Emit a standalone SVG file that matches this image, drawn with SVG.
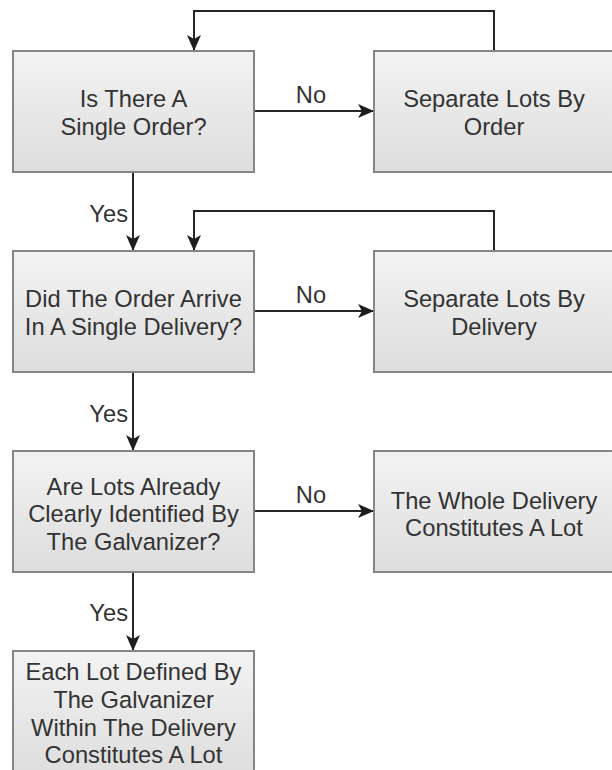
<svg xmlns="http://www.w3.org/2000/svg" width="612" height="770" viewBox="0 0 612 770">
<defs>
<linearGradient id="g" x1="0" y1="0" x2="0" y2="1">
<stop offset="0" stop-color="#f3f3f3"/>
<stop offset="1" stop-color="#dddddd"/>
</linearGradient>
<marker id="arr" viewBox="0 0 16 14" refX="15" refY="7" markerWidth="16" markerHeight="14" markerUnits="userSpaceOnUse" orient="auto">
<path d="M0,0 L16,7 L0,14 L4,7 Z" fill="#1e1e1e"/>
</marker>
<style>
.box{fill:url(#g);stroke:#858585;stroke-width:2}
.t{font-family:"Liberation Sans",Arial,sans-serif;font-size:23.7px;fill:#333;text-anchor:middle}
.l{font-family:"Liberation Sans",Arial,sans-serif;font-size:23.7px;fill:#333}
.c{fill:none;stroke:#262626;stroke-width:2;marker-end:url(#arr)}
</style>
</defs>
<rect width="612" height="770" fill="#fff"/>
<g id="connectors">
<path class="c" d="M494,51 V11 H194 V50"/>
<path class="c" d="M254,111 H373"/>
<path class="c" d="M133,172 V250"/>
<path class="c" d="M494,251 V211 H194 V250"/>
<path class="c" d="M254,311 H373"/>
<path class="c" d="M133,372 V450"/>
<path class="c" d="M254,511 H373"/>
<path class="c" d="M133,572 V650"/>
<text class="t" x="311" y="103">No</text>
<text class="t" x="311" y="303">No</text>
<text class="t" x="311" y="503">No</text>
<text class="l" x="128" y="222" text-anchor="end">Yes</text>
<text class="l" x="128" y="422" text-anchor="end">Yes</text>
<text class="l" x="128" y="621" text-anchor="end">Yes</text>
</g>
<g id="q1">
<rect class="box" x="13" y="51" width="241" height="121"/>
<text class="t" x="133.5" y="107">Is There A</text>
<text class="t" x="133.5" y="135">Single Order?</text>
</g>
<g id="r1">
<rect class="box" x="374" y="51" width="241" height="121"/>
<text class="t" x="494" y="107">Separate Lots By</text>
<text class="t" x="494" y="135">Order</text>
</g>
<g id="q2">
<rect class="box" x="13" y="251" width="241" height="121"/>
<text class="t" x="133.5" y="307">Did The Order Arrive</text>
<text class="t" x="133.5" y="335">In A Single Delivery?</text>
</g>
<g id="r2">
<rect class="box" x="374" y="251" width="241" height="121"/>
<text class="t" x="494" y="307">Separate Lots By</text>
<text class="t" x="494" y="335">Delivery</text>
</g>
<g id="q3">
<rect class="box" x="13" y="451" width="241" height="121"/>
<text class="t" x="133.5" y="495">Are Lots Already</text>
<text class="t" x="133.5" y="522">Clearly Identified By</text>
<text class="t" x="133.5" y="550">The Galvanizer?</text>
</g>
<g id="r3">
<rect class="box" x="374" y="451" width="241" height="121"/>
<text class="t" x="494" y="509">The Whole Delivery</text>
<text class="t" x="494" y="536">Constitutes A Lot</text>
</g>
<g id="e4">
<rect class="box" x="13" y="651" width="241" height="125"/>
<text class="t" x="133.5" y="680">Each Lot Defined By</text>
<text class="t" x="133.5" y="708">The Galvanizer</text>
<text class="t" x="133.5" y="736">Within The Delivery</text>
<text class="t" x="133.5" y="763">Constitutes A Lot</text>
</g>
</svg>
